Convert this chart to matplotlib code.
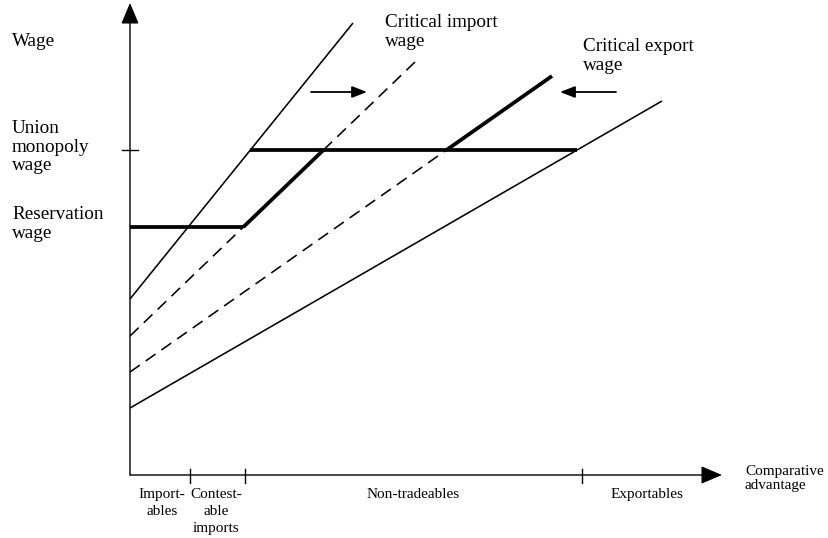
import numpy as np
import matplotlib
matplotlib.use("Agg")
import matplotlib.pyplot as plt

plt.rcParams['font.family'] = ['Liberation Serif', 'DejaVu Serif']

# wage schedules: value at zero comparative advantage and where each line ends
steep_line = {"intercept": 176, "end_x": 223, "end_y": 452}
import_line = {"intercept": 139, "end_x": 285, "end_y": 413}
export_line = {"intercept": 103, "end_x": 422, "end_y": 399}
bottom_line = {"intercept": 67, "end_x": 532, "end_y": 374}

reservation_wage = 248
union_wage = 325

# boundaries between sectors on the comparative advantage axis
sector_bounds = [60, 115, 452]
sector_names = ["Import-\nables", "Contest-\nable\nimports", "Non-tradeables", "Exportables"]
sector_label_x = [32, 86, 283, 517]

# shift arrows (start, end, height)
import_arrow = (181, 237, 383)
export_arrow = (486, 430, 383)


def slope(line):
    return (line["end_y"] - line["intercept"]) / line["end_x"]


def x_at(line, w):
    return (w - line["intercept"]) / slope(line)


def y_at(line, x):
    return line["intercept"] + slope(line) * x


fig = plt.figure(figsize=(8.29, 5.38), dpi=100)
ax = fig.add_axes([0, 0, 1, 1])
ax.set_xlim(-130, 699)
ax.set_ylim(-63, 475)
ax.axis('off')

thin = 1.15
thick = 2.7

# solid schedules
for ln in [steep_line, bottom_line]:
    xs = np.array([0, ln["end_x"]])
    ax.plot(xs, y_at(ln, xs), color='black', lw=thin, solid_capstyle='butt')

# dashed critical wage lines
xs = np.array([0, import_line["end_x"]])
ax.plot(xs, y_at(import_line, xs), color='black', lw=thin, dashes=(7.5, 4.5))
x_exp_union = x_at(export_line, union_wage)
xs = np.array([0, x_exp_union])
ax.plot(xs, y_at(export_line, xs), color='black', lw=thin, dashes=(7.5, 4.5))

# thick wage path
x_res = x_at(import_line, reservation_wage)
x_imp_union = x_at(import_line, union_wage)
ax.plot([0, x_res], [reservation_wage, reservation_wage], color='black', lw=thick, solid_capstyle='butt')
ax.plot([x_res, x_imp_union], [reservation_wage, union_wage], color='black', lw=thick, solid_capstyle='butt')
ax.plot([x_at(steep_line, union_wage), x_at(bottom_line, union_wage)], [union_wage, union_wage],
        color='black', lw=thick, solid_capstyle='butt')
ax.plot([x_exp_union, export_line["end_x"]], [union_wage, export_line["end_y"]],
        color='black', lw=thick, solid_capstyle='butt')

# axes with arrow heads
ax.annotate('', xy=(0, 472), xytext=(0, 0),
            arrowprops=dict(arrowstyle='-|>,head_length=1.3,head_width=0.55', color='black', lw=1.0,
                            shrinkA=0, shrinkB=0))
ax.annotate('', xy=(592, 0), xytext=(0, 0),
            arrowprops=dict(arrowstyle='-|>,head_length=1.3,head_width=0.55', color='black', lw=1.0,
                            shrinkA=0, shrinkB=0))

# tick marks
ax.plot([-8, 8], [union_wage, union_wage], color='black', lw=1.0)
for b in sector_bounds:
    ax.plot([b, b], [-8, 6], color='black', lw=1.0)

# shift arrows
for a in [import_arrow, export_arrow]:
    ax.annotate('', xy=(a[1], a[2]), xytext=(a[0], a[2]),
                arrowprops=dict(arrowstyle='-|>,head_length=0.9,head_width=0.35', color='black', lw=1.3,
                                shrinkA=0, shrinkB=0))

big = 13.8
small = 11
ax.text(-118, 434, "Wage", fontsize=big, va='center', ha='left')
ax.text(-118, 328, "Union\nmonopoly\nwage", fontsize=big, va='center', ha='left', linespacing=1.1)
ax.text(-118, 251, "Reservation\nwage", fontsize=big, va='center', ha='left', linespacing=1.1)
ax.text(255, 443, "Critical import\nwage", fontsize=big, va='center', ha='left', linespacing=1.1)
ax.text(453, 419, "Critical export\nwage", fontsize=big, va='center', ha='left', linespacing=1.1)
ax.text(615, -3, "Comparative\nadvantage", fontsize=small, va='center', ha='left', linespacing=1.1)

for name, x in zip(sector_names, sector_label_x):
    ax.text(x, -13, name, fontsize=small, va='top', ha='center', linespacing=1.4)

fig.savefig("out.png", dpi=100)
